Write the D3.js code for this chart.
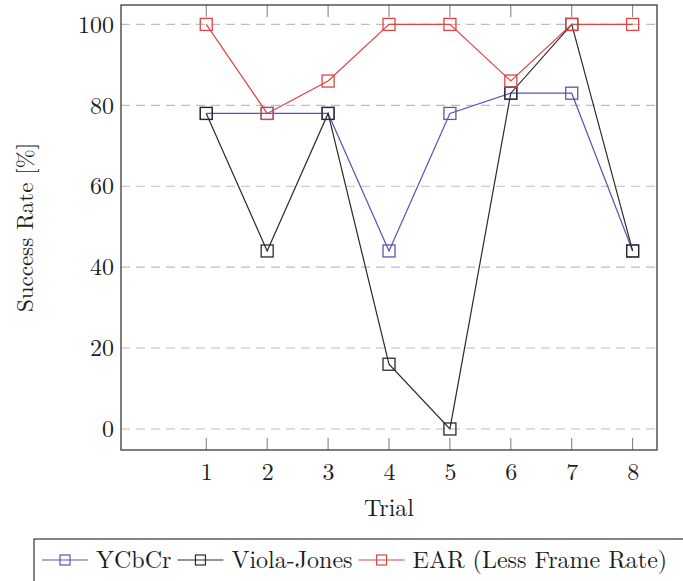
<!DOCTYPE html>
<meta charset="utf-8">
<style>
  body { margin: 0; background: #fff; }
  .grid line { stroke: #c4bcbc; stroke-dasharray: 9 6; stroke-width: 1.1px; }
  .line { fill: none; stroke-width: 1.2px; }
  .mark { fill: none; stroke-width: 1.3px; }
</style>
<body>
<script src="https://d3js.org/d3.v7.min.js"></script>
<script>
  // data
  var trials = [1, 2, 3, 4, 5, 6, 7, 8];
  var ycbcr = [78, 78, 78, 44, 78, 83, 83, 44];
  var violaJones = [78, 44, 78, 16, 0, 83, 100, 44];
  var ear = [100, 78, 86, 100, 100, 86, 100, 100];
  var yTicks = [0, 20, 40, 60, 80, 100];
  var seriesNames = ["YCbCr", "Viola-Jones", "EAR (Less Frame Rate)"];
  var seriesColors = ["#5656b4", "#2a2a2a", "#dd4444"];

  var series = [ycbcr, violaJones, ear].map(function(vals, i) {
    return {
      name: seriesNames[i],
      color: seriesColors[i],
      values: vals.map(function(v, j) { return { t: trials[j], v: v }; })
    };
  });

  var serif = "'Latin Modern Roman', 'Liberation Serif', serif";
  var ink = "#1e1e1e";

  var margin = { top: 5, right: 26, bottom: 131, left: 121 },
    width = 683 - margin.left - margin.right,
    height = 581 - margin.top - margin.bottom;

  var svg = d3.select("body").append("svg")
    .attr("width", 683)
    .attr("height", 581);

  var g = svg.append("g")
    .attr("transform", "translate(" + margin.left + "," + margin.top + ")");

  var x = d3.scaleLinear().domain([-0.4, 8.4]).range([0, width]);
  var y = d3.scaleLinear().domain([-5.2, 104.8]).range([height, 0]);

  // dashed horizontal grid
  g.append("g")
    .attr("class", "grid")
    .selectAll("line")
    .data(yTicks)
    .enter().append("line")
    .attr("x1", 0)
    .attr("x2", width)
    .attr("y1", function(d) { return y(d); })
    .attr("y2", function(d) { return y(d); });

  // inward ticks on top and bottom
  var tickLen = 12;
  g.append("g").selectAll("line")
    .data(trials).enter().append("line")
    .attr("x1", function(d) { return x(d); })
    .attr("x2", function(d) { return x(d); })
    .attr("y1", height)
    .attr("y2", height - tickLen)
    .attr("stroke", "#777").attr("stroke-width", 1);
  g.append("g").selectAll("line")
    .data(trials).enter().append("line")
    .attr("x1", function(d) { return x(d); })
    .attr("x2", function(d) { return x(d); })
    .attr("y1", 0)
    .attr("y2", tickLen)
    .attr("stroke", "#777").attr("stroke-width", 1);

  // x tick labels
  var xAxis = g.append("g")
    .attr("transform", "translate(0," + height + ")")
    .call(d3.axisBottom(x).tickValues(trials).tickSize(0).tickPadding(13).tickFormat(d3.format("d")));
  xAxis.select(".domain").remove();
  xAxis.selectAll("text")
    .style("font-family", serif).style("font-size", "24px").attr("fill", ink);

  // y tick labels
  var yAxis = g.append("g")
    .call(d3.axisLeft(y).tickValues(yTicks).tickSize(0).tickPadding(7));
  yAxis.select(".domain").remove();
  yAxis.selectAll("text")
    .style("font-family", serif).style("font-size", "24px").attr("fill", ink);

  // lines
  var line = d3.line()
    .x(function(d) { return x(d.t); })
    .y(function(d) { return y(d.v); });

  series.forEach(function(s) {
    g.append("path")
      .datum(s.values)
      .attr("class", "line")
      .attr("stroke", s.color)
      .attr("d", line);
  });

  var ms = 12;
  series.forEach(function(s) {
    g.append("g").selectAll("rect")
      .data(s.values).enter().append("rect")
      .attr("class", "mark")
      .attr("stroke", s.color)
      .attr("x", function(d) { return x(d.t) - ms / 2; })
      .attr("y", function(d) { return y(d.v) - ms / 2; })
      .attr("width", ms)
      .attr("height", ms);
  });

  // frame
  g.append("rect")
    .attr("width", width)
    .attr("height", height)
    .attr("fill", "none")
    .attr("stroke", "#3a3a3a")
    .attr("stroke-width", 1.3);

  // axis titles
  svg.append("text")
    .attr("x", margin.left + width / 2)
    .attr("y", 516)
    .attr("text-anchor", "middle")
    .style("font-family", serif).style("font-size", "24px").attr("fill", ink)
    .text("Trial");

  svg.append("text")
    .attr("transform", "translate(33," + (margin.top + height / 2) + ") rotate(-90)")
    .attr("text-anchor", "middle")
    .style("font-family", serif).style("font-size", "23px").attr("fill", ink)
    .text("Success Rate [%]");

  // legend
  var legend = svg.append("g");
  legend.append("rect")
    .attr("x", 34).attr("y", 539)
    .attr("width", 660).attr("height", 60)
    .attr("fill", "none").attr("stroke", "#333").attr("stroke-width", 1.2);

  var ly = 560, sample = 46, gapIn = 8, gapOut = 6, legendFont = 24;

  // shrink the font if the entries would not fit before the right edge
  var probe = legend.append("text")
    .style("font-family", serif).style("font-size", legendFont + "px");
  var textW = seriesNames.map(function(n) {
    probe.text(n);
    return probe.node().getComputedTextLength();
  });
  probe.remove();
  var fixed = 42 + 3 * (sample + gapIn) + 2 * gapOut;
  var avail = 678 - fixed;
  var total = d3.sum(textW);
  if (total > avail) {
    legendFont = legendFont * avail / total;
  }

  var lx = 42;
  series.forEach(function(s) {
    legend.append("line")
      .attr("x1", lx).attr("x2", lx + sample)
      .attr("y1", ly).attr("y2", ly)
      .attr("stroke", s.color).attr("stroke-width", 1.2);
    legend.append("rect")
      .attr("x", lx + sample / 2 - 5).attr("y", ly - 5)
      .attr("width", 10).attr("height", 10)
      .attr("fill", "none").attr("stroke", s.color).attr("stroke-width", 1.2);
    var t = legend.append("text")
      .attr("x", lx + sample + gapIn)
      .attr("y", ly + 8)
      .style("font-family", serif).style("font-size", legendFont + "px").attr("fill", ink)
      .text(s.name);
    lx += sample + gapIn + t.node().getComputedTextLength() + gapOut;
  });
</script>
</body>
